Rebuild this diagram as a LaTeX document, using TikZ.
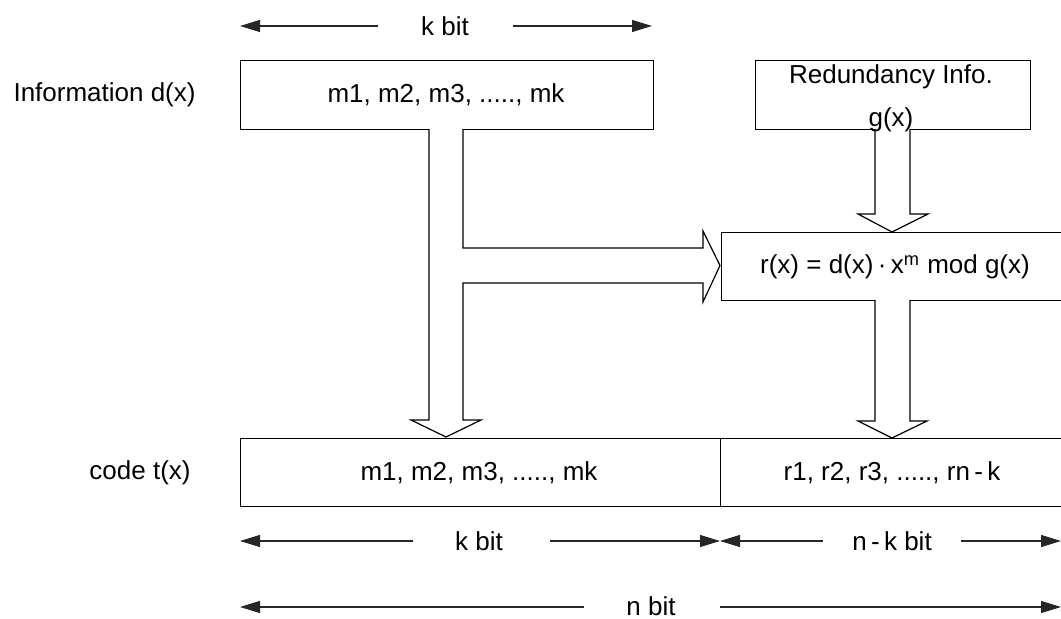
\documentclass[tikz,border=0pt]{standalone}
\usepackage{fontspec}
\setmainfont{Liberation Sans}
\usetikzlibrary{arrows.meta}
\begin{document}
\begin{tikzpicture}[x=0.5pt,y=-0.5pt,
  txt/.style={font=\fontsize{13}{21.5}\selectfont, inner sep=0pt},
  box/.style={draw, line width=0.6pt, inner sep=0pt, anchor=north west},
  blk/.style={draw, line width=0.6pt, fill=white, line join=miter},
  dim/.style={draw=black!85, line width=0.6pt, -{Triangle[length=10pt,width=6pt]}}]
\clip (0,0) rectangle (1061,619);
\fill[white] (0,0) rectangle (1061,619);
% boxes
\node[box, minimum width=413*0.5pt, minimum height=69*0.5pt] (info) at (240,60) {};
\node[txt] (infot) at (446,95) {m1, m2, m3, ....., mk};
\node[box, minimum width=275*0.5pt, minimum height=69*0.5pt] (red) at (755,60) {};
\node[box, minimum width=360*0.5pt, minimum height=68*0.5pt] (rx) at (721,232) {};
\node[txt] (rxt) at (895,267) {r(x) = d(x)\,·\,x\textsuperscript{m} mod g(x)};
\node[box, minimum width=480*0.5pt, minimum height=68*0.5pt] (code1) at (240,438) {};
\node[box, minimum width=360*0.5pt, minimum height=68*0.5pt] (code2) at (720,438) {};
\node[txt] (c1t) at (479,473) {m1, m2, m3, ....., mk};
\node[txt] (c2t) at (892,473) {r1, r2, r3, ....., rn\,-\,k};
% side labels
\node[txt, anchor=east] (lab1) at (196,95) {Information d(x)};
\node[txt, anchor=east] (lab2) at (191,473) {code t(x)};
% block arrows
\draw[blk] (429,129) -- (429,420) -- (411,420) -- (446,437) -- (481,420) -- (463,420)
  -- (463,283) -- (703,283) -- (703,302) -- (720,265.5) -- (703,231) -- (703,248)
  -- (463,248) -- (463,129);
\draw[blk] (875,129) -- (875,214) -- (858,214) -- (892,232) -- (928,214) -- (910,214) -- (910,129);
\draw[blk] (875,300) -- (875,421) -- (858,421) -- (892,438) -- (927,421) -- (910,421) -- (910,300);
\node[txt, align=center] (redt) at (891,98) {Redundancy Info.\\g(x)};
% dimension labels
\node[txt] (kt) at (445,26) {k bit};
\coordinate (kl) at (240,26); \coordinate (kr) at (652,26);
\coordinate (kl0) at (378,26); \coordinate (kr0) at (513,26);
\draw[dim] (kl0) -- (kl);
\draw[dim] (kr0) -- (kr);
\node[txt] (kb) at (479,541) {k bit};
\coordinate (kbl) at (240,541); \coordinate (kbr) at (720,541);
\coordinate (kbl0) at (413,541); \coordinate (kbr0) at (550,541);
\draw[dim] (kbl0) -- (kbl);
\draw[dim] (kbr0) -- (kbr);
\node[txt] (nk) at (892,541) {n\,-\,k bit};
\coordinate (nkl) at (720,541); \coordinate (nkr) at (1061,541);
\coordinate (nkl0) at (823,541); \coordinate (nkr0) at (961,541);
\draw[dim] (nkl0) -- (nkl);
\draw[dim] (nkr0) -- (nkr);
\node[txt] (nb) at (651,606) {n bit};
\coordinate (nbl) at (240,607); \coordinate (nbr) at (1061,607);
\coordinate (nbl0) at (584,607); \coordinate (nbr0) at (720,607);
\draw[dim] (nbl0) -- (nbl);
\draw[dim] (nbr0) -- (nbr);
\end{tikzpicture}
\end{document}
